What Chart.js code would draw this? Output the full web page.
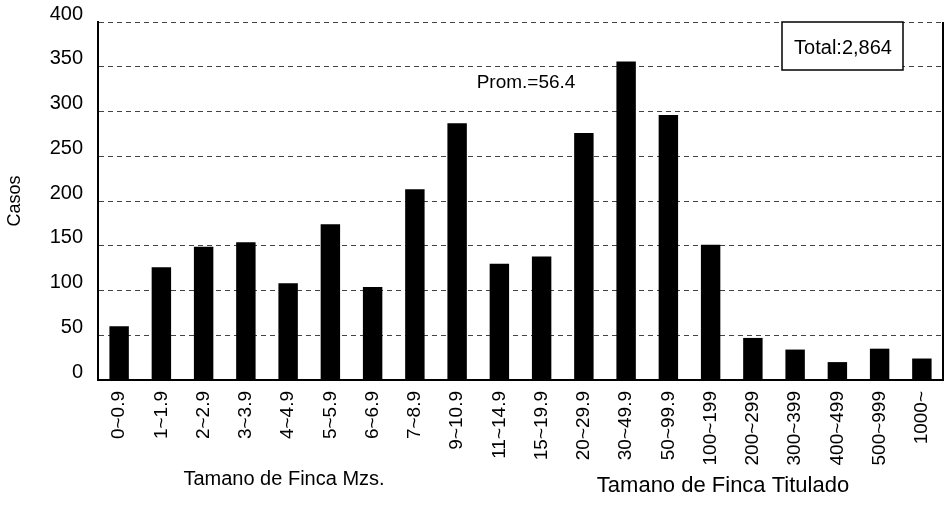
<!DOCTYPE html>
<html lang="es">
<head>
    <meta charset="UTF-8">
    <title>Tamano de Finca</title>
    <style>
        html, body { margin: 0; padding: 0; background: #fff; }
        #wrap { width: 951px; height: 515px; }
    </style>
</head>
<body>
    <div id="wrap">
        <canvas id="myChart" width="951" height="515"></canvas>
    </div>

    <script src="https://cdn.jsdelivr.net/npm/chart.js"></script>
    <script>
    // categories (tamano de finca)
    const categories = ['0~0.9', '1~1.9', '2~2.9', '3~3.9', '4~4.9', '5~5.9', '6~6.9', '7~8.9', '9~10.9',
        '11~14.9', '15~19.9', '20~29.9', '30~49.9', '50~99.9', '100~199', '200~299', '300~399',
        '400~499', '500~999', '1000~'];
    // casos per category
    const casos = [60, 126, 149, 154, 108, 174, 104, 213, 287, 130, 138, 276, 356, 296, 151, 47, 34, 20, 35, 24];
    const yTicks = [0, 50, 100, 150, 200, 250, 300, 350, 400];

    const totalText = 'Total:2,864';
    const promText = 'Prom.=56.4';
    const titleLeft = 'Tamano de Finca Mzs.';
    const titleRight = 'Tamano de Finca Titulado';

    const FONT = "'Liberation Sans', Arial, sans-serif";

    // extra texts, box and the right frame line
    const extras = {
        id: 'extras',
        afterDraw(chart) {
            const ctx = chart.ctx;
            const a = chart.chartArea;
            ctx.save();

            // right frame
            ctx.strokeStyle = '#000';
            ctx.lineWidth = 2;
            ctx.beginPath();
            ctx.moveTo(a.right, a.top);
            ctx.lineTo(a.right, a.bottom);
            ctx.stroke();

            ctx.fillStyle = '#000';
            ctx.textAlign = 'center';
            ctx.textBaseline = 'middle';

            // Total box
            ctx.fillStyle = '#fff';
            ctx.fillRect(a.right - 161, a.top, 121, 48);
            ctx.lineWidth = 1.5;
            ctx.strokeRect(a.right - 161, a.top, 121, 48);
            ctx.fillStyle = '#000';
            ctx.font = '20px ' + FONT;
            ctx.fillText(totalText, a.right - 100, a.top + 26);

            // average
            ctx.font = '19px ' + FONT;
            ctx.fillText(promText, 526, 83);

            // two x titles
            ctx.font = '20px ' + FONT;
            ctx.fillText(titleLeft, 284, 479);
            ctx.font = '22px ' + FONT;
            ctx.fillText(titleRight, 723, 486);

            ctx.restore();
        }
    };

    const ctx = document.getElementById('myChart').getContext('2d');
    const myChart = new Chart(ctx, {
        type: 'bar',
        data: {
            labels: categories,
            datasets: [{
                data: casos,
                backgroundColor: '#000',
                borderWidth: 0,
                barPercentage: 0.46,
                categoryPercentage: 1.0
            }]
        },
        options: {
            responsive: false,
            animation: false,
            devicePixelRatio: 1,
            layout: { padding: { top: 22, right: 8, left: 0, bottom: 0 } },
            plugins: {
                legend: { display: false },
                tooltip: { enabled: false }
            },
            scales: {
                x: {
                    grid: { display: false, drawTicks: false },
                    border: { display: true, color: '#000', width: 2 },
                    ticks: {
                        color: '#000',
                        font: { family: FONT, size: 19 },
                        minRotation: 90,
                        maxRotation: 90,
                        padding: 11,
                        autoSkip: false
                    },
                    afterFit(scale) {
                        scale.height = 135;
                        scale.paddingLeft = 0;
                        scale.paddingRight = 0;
                    }
                },
                y: {
                    min: 0,
                    max: 400,
                    afterBuildTicks(scale) { scale.ticks = yTicks.map(v => ({ value: v })); },
                    grid: { color: '#444', lineWidth: 1, drawTicks: false },
                    border: { display: true, color: '#000', width: 2, dash: [5, 4] },
                    ticks: {
                        color: '#000',
                        font: { family: FONT, size: 20 },
                        padding: 15,
                        labelOffset: -8
                    },
                    title: {
                        display: true,
                        text: 'Casos',
                        color: '#000',
                        font: { family: FONT, size: 18 },
                        padding: { top: 4, bottom: 0 }
                    },
                    afterFit(scale) {
                        scale.width = 98;
                        scale.paddingTop = 0;
                        scale.paddingBottom = 0;
                    }
                }
            }
        },
        plugins: [extras]
    });
    </script>
</body>
</html>
